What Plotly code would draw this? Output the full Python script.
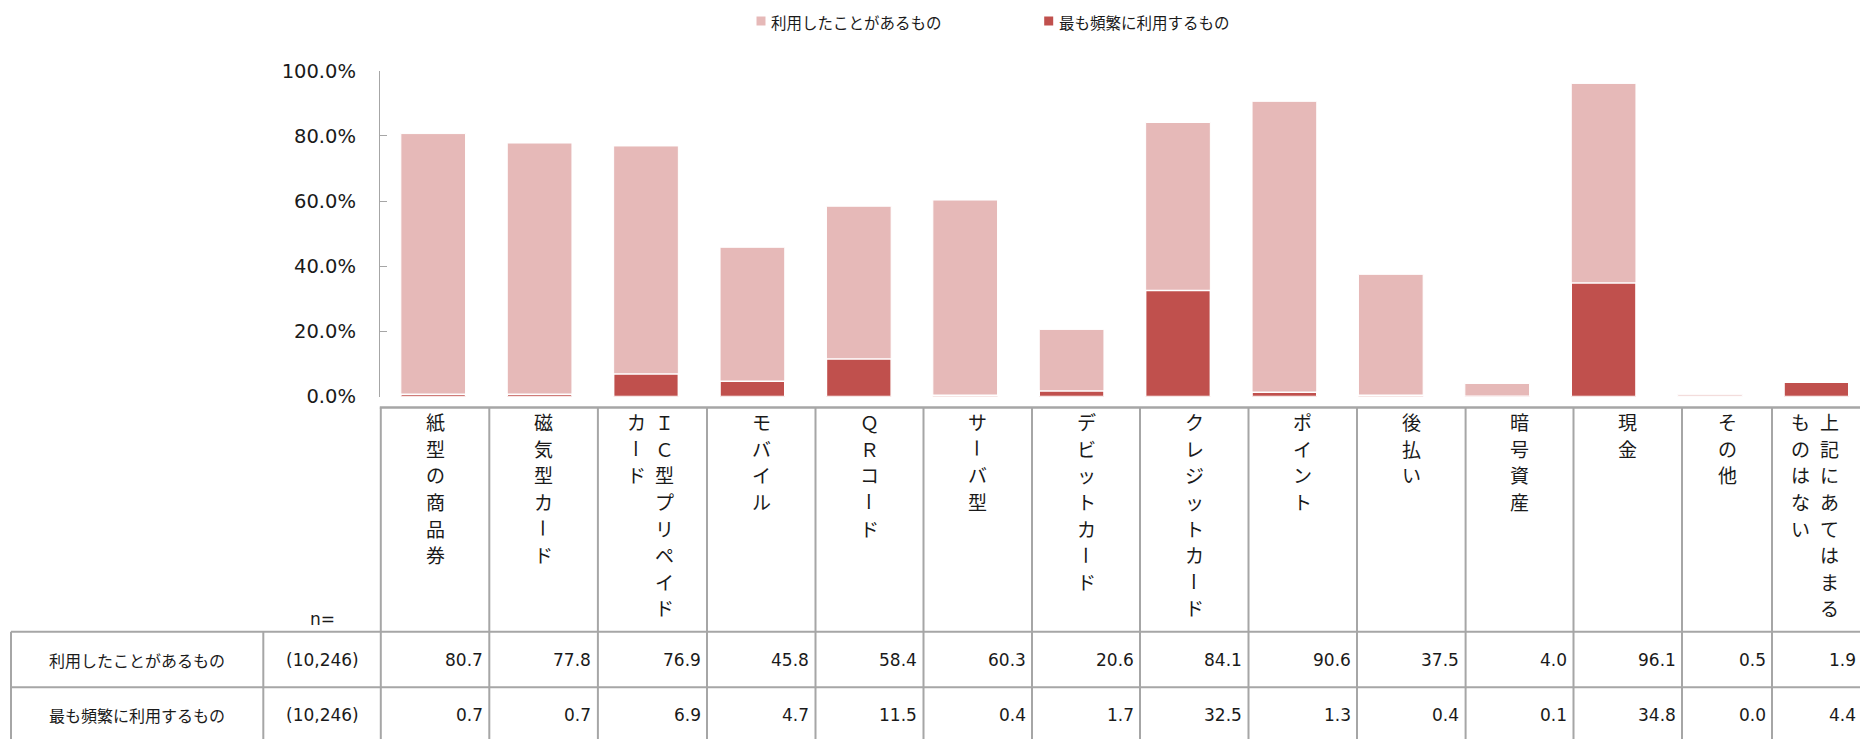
import plotly.graph_objects as go

# ---- data ----------------------------------------------------------------
categories = [
    "紙型の商品券", "磁気型カード", "ＩＣ型プリペイドカード", "モバイル", "ＱＲコード",
    "サーバ型", "デビットカード", "クレジットカード", "ポイント", "後払い",
    "暗号資産", "現金", "その他", "上記にあてはまるものはない",
]
# header text, one string per vertical text column (read right to left)
header_columns = [
    ["紙型の商品券"], ["磁気型カード"], ["ＩＣ型プリペイド", "カード"], ["モバイル"],
    ["ＱＲコード"], ["サーバ型"], ["デビットカード"], ["クレジットカード"], ["ポイント"],
    ["後払い"], ["暗号資産"], ["現金"], ["その他"], ["上記にあてはまる", "ものはない"],
]
series_names = ["利用したことがあるもの", "最も頻繁に利用するもの"]
ever_used = [80.7, 77.8, 76.9, 45.8, 58.4, 60.3, 20.6, 84.1, 90.6, 37.5, 4.0, 96.1, 0.5, 1.9]
most_frequent = [0.7, 0.7, 6.9, 4.7, 11.5, 0.4, 1.7, 32.5, 1.3, 0.4, 0.1, 34.8, 0.0, 4.4]
sample_sizes = ["(10,246)", "(10,246)"]
y_ticks = [0, 20, 40, 60, 80, 100]
y_tick_text = [f"{v:.1f}%" for v in y_ticks]

# ---- layout constants (pixels) --------------------------------------------
W, H = 1860, 739
PLOT_LEFT = 380
ZERO_Y, TOP_Y = 396.5, 70.7
BAND = 106.4
LIGHT, DARK = "#E6B9B8", "#C0504D"
GRID = "#A6A6A6"
TEXT = "#1A1A1A"
JP = "Noto Sans CJK JP"
NUM = "DejaVu Sans"

COL_EDGES = [380.8, 489.3, 597.9, 707.0, 815.5, 923.5, 1032.0, 1140.0,
             1248.5, 1357.0, 1465.6, 1573.5, 1682.0, 1772.0, 1862.0]
LABEL_COL = (11.0, 263.3)
N_COL = (263.3, 380.8)
TABLE_TOP = 407.5
ROW_LINES = [631.7, 687.3]
ROW_CENTERS = [660.0, 715.0]
CHAR_TOP, CHAR_STEP = 421.7, 26.6
SUB_COL_GAP = 28.5


def fx(x):
    return x / W


def fy(y):
    return 1 - y / H


fig = go.Figure()
fig.add_trace(go.Bar(
    x=categories, y=ever_used, name=series_names[0], width=0.608,
    marker=dict(color=LIGHT, line=dict(color="white", width=1)),
    showlegend=False,
))
fig.add_trace(go.Bar(
    x=categories, y=most_frequent, name=series_names[1], width=0.608,
    marker=dict(color=DARK, line=dict(color="white", width=1.5)),
    showlegend=False,
))

shapes = []
annotations = []

# legend
legend_items = [(761.0, 769.0, LIGHT), (1048.7, 1056.5, DARK)]
for name, (sq_x, tx, col) in zip(series_names, legend_items):
    shapes.append(dict(type="rect", xref="paper", yref="paper",
                       x0=fx(sq_x - 4.5), x1=fx(sq_x + 4.5),
                       y0=fy(21 + 4.5), y1=fy(21 - 4.5),
                       fillcolor=col, line=dict(width=0)))
    annotations.append(dict(text=name, xref="paper", yref="paper",
                            x=fx(tx), y=fy(22), xanchor="left", yanchor="middle",
                            showarrow=False, font=dict(family=JP, size=15.5, color=TEXT)))

# table grid
line_style = dict(color=GRID, width=2)
shapes.append(dict(type="line", xref="paper", yref="paper",
                   x0=fx(COL_EDGES[0] - 1), x1=1, y0=fy(TABLE_TOP), y1=fy(TABLE_TOP),
                   line=dict(color=GRID, width=2.5)))
for xe in COL_EDGES:
    shapes.append(dict(type="line", xref="paper", yref="paper",
                       x0=fx(xe), x1=fx(xe), y0=fy(TABLE_TOP), y1=0, line=line_style))
for xe in (LABEL_COL[0], LABEL_COL[1]):
    shapes.append(dict(type="line", xref="paper", yref="paper",
                       x0=fx(xe), x1=fx(xe), y0=fy(ROW_LINES[0]), y1=0, line=line_style))
for yl in ROW_LINES:
    shapes.append(dict(type="line", xref="paper", yref="paper",
                       x0=fx(LABEL_COL[0]), x1=1, y0=fy(yl), y1=fy(yl), line=line_style))

# vertical header labels; the long vowel mark is turned upright for vertical writing
for i, cols in enumerate(header_columns):
    center = (COL_EDGES[i] + COL_EDGES[i + 1]) / 2
    if len(cols) == 1:
        xs = [center]
    else:
        xs = [center - 2 + SUB_COL_GAP / 2, center - 2 - SUB_COL_GAP / 2]
    for text, xc in zip(cols, xs):
        for k, ch in enumerate(text):
            annotations.append(dict(text=ch, xref="paper", yref="paper",
                                    x=fx(xc), y=fy(CHAR_TOP + k * CHAR_STEP),
                                    xanchor="center", yanchor="middle", showarrow=False,
                                    textangle=90 if ch == "ー" else 0,
                                    font=dict(family=JP, size=19, color=TEXT)))

# n= caption
annotations.append(dict(text="n=", xref="paper", yref="paper",
                        x=fx((N_COL[0] + N_COL[1]) / 2), y=fy(618.5),
                        xanchor="center", yanchor="middle", showarrow=False,
                        font=dict(family=NUM, size=17, color=TEXT)))

# table rows
for r, (name, n, values) in enumerate(zip(series_names, sample_sizes, [ever_used, most_frequent])):
    yc = fy(ROW_CENTERS[r])
    annotations.append(dict(text=name, xref="paper", yref="paper",
                            x=fx((LABEL_COL[0] + LABEL_COL[1]) / 2), y=yc,
                            xanchor="center", yanchor="middle", showarrow=False,
                            font=dict(family=JP, size=16, color=TEXT)))
    annotations.append(dict(text=n, xref="paper", yref="paper",
                            x=fx((N_COL[0] + N_COL[1]) / 2), y=yc,
                            xanchor="center", yanchor="middle", showarrow=False,
                            font=dict(family=NUM, size=17, color=TEXT)))
    for i, v in enumerate(values):
        annotations.append(dict(text=f"{v:.1f}", xref="paper", yref="paper",
                                x=fx(COL_EDGES[i + 1] - 4.5), y=yc,
                                xanchor="right", yanchor="middle", showarrow=False,
                                font=dict(family=NUM, size=17, color=TEXT)))

fig.update_layout(
    template="none",
    width=W, height=H,
    margin=dict(l=0, r=0, t=0, b=0, pad=0, autoexpand=False),
    paper_bgcolor="white", plot_bgcolor="white",
    barmode="overlay",
    xaxis=dict(domain=[fx(PLOT_LEFT), 1], range=[-0.5, -0.5 + (W - PLOT_LEFT) / BAND],
               showticklabels=False, showline=False, ticks="", showgrid=False,
               zeroline=False, automargin=False, fixedrange=True),
    yaxis=dict(domain=[fy(ZERO_Y), fy(TOP_Y)], range=[0, 100],
               tickvals=y_ticks, ticktext=y_tick_text,
               showline=True, linecolor=GRID, linewidth=1.2,
               ticks="inside", ticklen=7, tickcolor=GRID, tickwidth=1.2,
               ticklabelstandoff=19, showgrid=False, zeroline=False, automargin=False,
               tickfont=dict(family=NUM, size=19.5, color=TEXT), fixedrange=True),
    shapes=shapes,
    annotations=annotations,
)

fig.write_html("out.html")
